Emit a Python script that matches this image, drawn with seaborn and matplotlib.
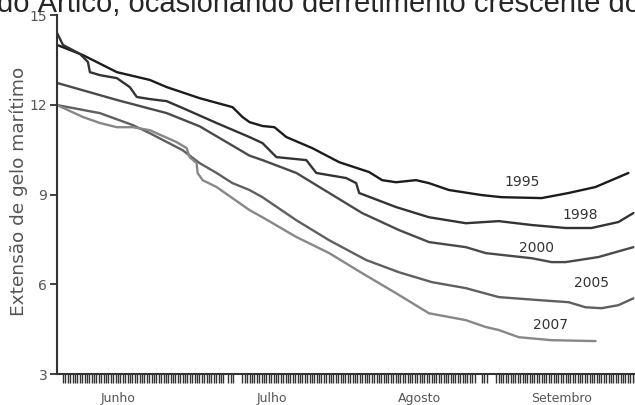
import matplotlib
matplotlib.use("Agg")
import matplotlib.pyplot as plt
import numpy as np
import pandas as pd
import seaborn as sns

# dias a partir do inicio do eixo (1 dia ~ 5 px), extensao em milhoes de km2
years = ["1995", "1998", "2000", "2005", "2007"]

day_1995 = [0, 5.2, 12, 18.6, 22, 28.6, 35.2, 37.2, 38.6, 41.2, 43.6, 46, 51.2, 56.6,
            62.6, 65.2, 68, 72, 74.6, 78.6, 85.2, 89.2, 97.2, 102.6, 108, 114.6]
ext_1995 = [14.0, 13.66, 13.09, 12.83, 12.59, 12.22, 11.92, 11.59, 11.42, 11.29, 11.25,
            10.92, 10.55, 10.08, 9.75, 9.48, 9.41, 9.48, 9.38, 9.15, 8.98, 8.91, 8.88,
            9.05, 9.25, 9.72]

day_1998 = [0, 1.2, 4.6, 6.2, 6.6, 8.6, 12, 14.6, 16, 18.6, 22, 25.2, 32, 38.6, 41.2,
            44, 50, 52, 58, 60, 60.6, 68, 74.6, 82, 88.6, 95.2, 102, 107.2, 112.6, 115.6]
ext_1998 = [14.40, 14.0, 13.70, 13.43, 13.09, 12.99, 12.89, 12.59, 12.26, 12.19, 12.12,
            11.89, 11.39, 10.92, 10.72, 10.25, 10.15, 9.72, 9.55, 9.38, 9.05, 8.58,
            8.24, 8.04, 8.11, 7.98, 7.88, 7.88, 8.08, 8.38]

day_2000 = [0, 12, 22, 28.6, 38.6, 41.2, 48, 54.6, 61.2, 68.6, 74.6, 82, 86, 95.2,
            99.2, 102, 108.6, 115.6]
ext_2000 = [12.73, 12.16, 11.72, 11.28, 10.3, 10.15, 9.72, 9.05, 8.38, 7.81, 7.41,
            7.24, 7.04, 6.87, 6.74, 6.74, 6.91, 7.24]

day_2005 = [0, 8.6, 15.2, 18.6, 25.2, 28.6, 32, 35.2, 38.6, 41.2, 48, 54.6, 62, 68.6,
            75.2, 82, 88.6, 96.6, 102.6, 106, 109.2, 112.6, 115.6]
ext_2005 = [11.99, 11.72, 11.32, 11.05, 10.48, 10.05, 9.72, 9.38, 9.15, 8.91, 8.14,
            7.47, 6.81, 6.40, 6.07, 5.87, 5.57, 5.47, 5.40, 5.23, 5.20, 5.30, 5.53]

day_2007 = [0, 5.2, 8.6, 12, 15.2, 18.6, 24, 26, 26.6, 28, 28.2, 29.2, 32, 38.6, 41.2,
            48, 54.6, 61.2, 68, 74.6, 82, 86, 88.6, 92.6, 99.2, 108]
ext_2007 = [11.99, 11.59, 11.39, 11.25, 11.25, 11.15, 10.75, 10.55, 10.25, 10.05, 9.72,
            9.48, 9.25, 8.48, 8.24, 7.58, 7.04, 6.37, 5.70, 5.03, 4.80, 4.57, 4.47,
            4.23, 4.13, 4.10]

label_day = [93.2, 105, 96.2, 107.2, 99]
label_ext = [9.41, 8.31, 7.21, 6.03, 4.63]

months = ["Junho", "Julho", "Agosto", "Setembro"]
month_day = [12.2, 43, 72.6, 101.2]

colors = {"1995": "#1c1c1c", "1998": "#333333", "2000": "#4a4a4a",
          "2005": "#5f5f5f", "2007": "#878787"}

days = [day_1995, day_1998, day_2000, day_2005, day_2007]
exts = [ext_1995, ext_1998, ext_2000, ext_2005, ext_2007]
df = pd.concat([pd.DataFrame({"dia": d, "extensao": e, "ano": y})
                for d, e, y in zip(days, exts, years)], ignore_index=True)

sns.set_style("ticks")
plt.rcParams["font.family"] = ["DejaVu Sans"]

fig = plt.figure(figsize=(6.35, 4.05), dpi=100)
ax = fig.add_axes([57 / 635, 31 / 405, 578 / 635, 359 / 405])

sns.lineplot(data=df, x="dia", y="extensao", hue="ano", palette=colors,
             estimator=None, sort=False, linewidth=1.7, legend=False, ax=ax)

for y, lx, ly in zip(years, label_day, label_ext):
    ax.text(lx, ly, y, ha="center", va="center", fontsize=10, color="#333333")

ax.set_xlim(0, 115.6)
ax.set_ylim(3, 15)
ax.set_yticks([3, 6, 9, 12, 15])
ax.set_xticks(month_day)
ax.set_xticklabels(months)

# tracinhos diarios com falhas nas viradas de mes
minor = np.arange(1.2, 116, 0.48)
gaps = [(33.5, 34.2), (35.7, 37.2), (84.1, 85.0), (86.3, 88.0)]
keep = np.ones(len(minor), bool)
for a, b in gaps:
    keep &= ~((minor > a) & (minor < b))
ax.set_xticks(minor[keep], minor=True)

ax.tick_params(axis="x", which="major", length=0, pad=13, labelsize=9,
               labelcolor="#555555")
ax.tick_params(axis="x", which="minor", length=6.5, width=1.0, color="#333333")
ax.tick_params(axis="y", length=5, width=1.3, color="#333333", labelsize=10,
               labelcolor="#555555", pad=2)

sns.despine(ax=ax)
for s in ["left", "bottom"]:
    ax.spines[s].set_linewidth(1.5)
    ax.spines[s].set_color("#333333")

ax.set_xlabel("")
ax.set_ylabel("Extensão de gelo marítimo", fontsize=13.3, color="#555555")
ax.yaxis.set_label_coords(-0.050, 0.51)

fig.text(-0.004, 1 - 12 / 405, "do Ártico, ocasionando derretimento crescente do",
         fontsize=21, family="Liberation Sans", va="baseline", ha="left")

fig.savefig("out.png", dpi=100)
